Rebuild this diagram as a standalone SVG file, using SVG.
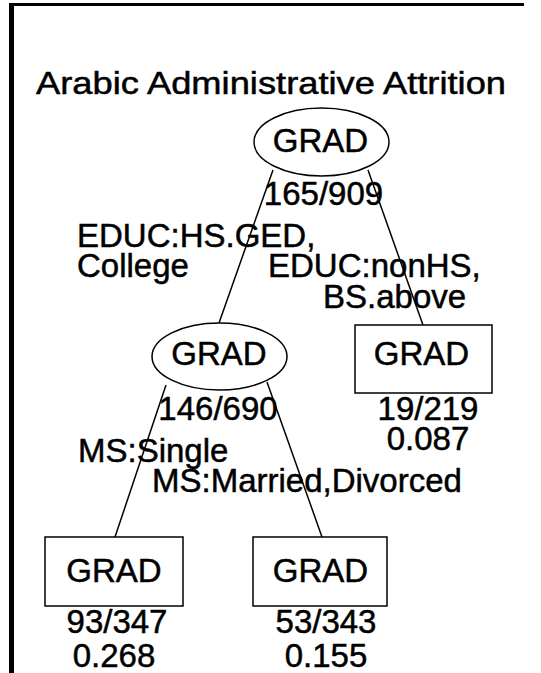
<svg xmlns="http://www.w3.org/2000/svg" width="541" height="673" viewBox="0 0 541 673">
<style>
text{font-family:"Liberation Sans",Arial,sans-serif;fill:#000;stroke:#000;stroke-width:0.5;}
.t{font-size:33px;}
.m{text-anchor:middle;}
.n{fill:#fff;stroke:#000;stroke-width:1.5;}
.e{stroke:#000;stroke-width:1.5;fill:none;}
</style>
<rect width="541" height="673" fill="#fff"/>
<g id="frame">
<line x1="9" y1="4.5" x2="524" y2="4.5" stroke="#000" stroke-width="3"/>
<line x1="11.5" y1="3" x2="11.5" y2="673" stroke="#000" stroke-width="5"/>
</g>
<text id="title" x="36" y="94" font-size="32" textLength="470" lengthAdjust="spacingAndGlyphs">Arabic Administrative Attrition</text>
<g id="connectors">
<line class="e" x1="273" y1="170" x2="219" y2="323"/>
<line class="e" x1="368" y1="170" x2="423" y2="325"/>
<line class="e" x1="166" y1="385" x2="115" y2="537"/>
<line class="e" x1="267" y1="382" x2="322" y2="537"/>
<text class="t" x="77" y="247">EDUC:HS.GED,</text>
<text class="t" x="77" y="277">College</text>
<text class="t" x="268" y="277">EDUC:nonHS,</text>
<text class="t" x="323" y="308">BS.above</text>
<text class="t" x="78" y="462">MS:Single</text>
<text class="t" x="152" y="492">MS:Married,Divorced</text>
</g>
<g id="root">
<ellipse class="n" cx="321.5" cy="142" rx="67.5" ry="34"/>
<text class="t m" x="320.5" y="152">GRAD</text>
<text class="t m" x="323.5" y="205">165/909</text>
</g>
<g id="mid">
<ellipse class="n" cx="219.5" cy="356.5" rx="67.5" ry="33.5"/>
<text class="t m" x="219" y="365">GRAD</text>
<text class="t m" x="218" y="420">146/690</text>
</g>
<g id="leafR1">
<rect class="n" x="355" y="325" width="137" height="68"/>
<text class="t m" x="421.5" y="365">GRAD</text>
<text class="t m" x="428" y="420">19/219</text>
<text class="t m" x="428" y="450">0.087</text>
</g>
<g id="leafL2">
<rect class="n" x="45" y="537" width="138" height="69"/>
<text class="t m" x="114" y="582">GRAD</text>
<text class="t m" x="117" y="633">93/347</text>
<text class="t m" x="114" y="667">0.268</text>
</g>
<g id="leafR2">
<rect class="n" x="253" y="537" width="134" height="69"/>
<text class="t m" x="320.5" y="582">GRAD</text>
<text class="t m" x="326" y="633">53/343</text>
<text class="t m" x="326" y="667">0.155</text>
</g>
</svg>
